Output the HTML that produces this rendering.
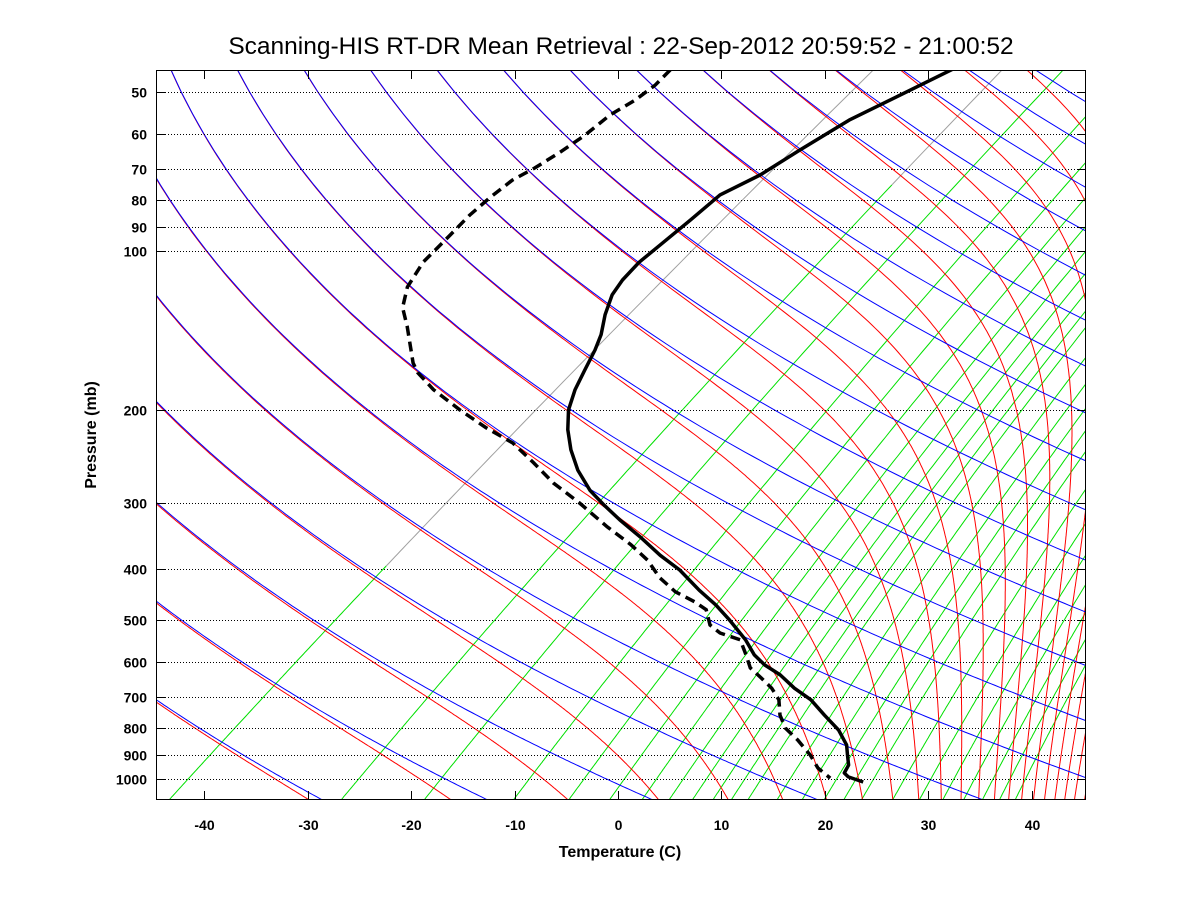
<!DOCTYPE html>
<html><head><meta charset="utf-8"><style>
html,body{margin:0;padding:0;background:#fff;}
svg{display:block;font-family:"Liberation Sans",sans-serif;}
</style></head><body>
<svg id="chart" width="1200" height="900" viewBox="0 0 1200 900" xmlns="http://www.w3.org/2000/svg">
<rect x="0" y="0" width="1200" height="900" fill="#fff"/>
<defs><clipPath id="pc"><rect x="156" y="70" width="930" height="730"/></clipPath></defs>
<text x="621" y="54" text-anchor="middle" font-size="24.5" fill="#000">Scanning-HIS RT-DR Mean Retrieval : 22-Sep-2012 20:59:52 - 21:00:52</text>
<g id="bg" clip-path="url(#pc)"></g>
<g id="grid"></g>
<g id="data" clip-path="url(#pc)"></g>
<g id="axes"></g>
<text x="620" y="857" text-anchor="middle" font-size="16" font-weight="bold">Temperature (C)</text>
<text x="0" y="0" transform="translate(96,435) rotate(-90)" text-anchor="middle" font-size="16" font-weight="bold">Pressure (mb)</text>
</svg>
<script>
// ---- data ----
const tempPressure=[45.0,50.6,56.5,64.4,71.8,78.3,87.4,97.5,105,113.5,121,132,144,154,168,183,200,218,238,260,284,303,323,348,377,402,439,468,500,545,582,608,635,673,708,757,808,862,901,941,974,991,1013];
const tempValues=[-59.5,-61.3,-63.0,-63.9,-64.5,-65.8,-65.4,-65.1,-64.9,-64.2,-63.3,-61.4,-59.2,-57.8,-56.2,-54.6,-52.6,-50.1,-47.2,-43.9,-40.1,-36.8,-33.4,-29.2,-24.9,-21.1,-16.6,-13.1,-9.8,-5.7,-2.9,-0.6,2.2,5.3,8.4,11.7,15.0,17.7,19.1,20.5,21.1,22.0,24.1];
const dewPressure=[45.4,48.5,51.8,55.3,60.3,64.9,69.6,73.4,79.3,85.5,93.3,105,117,128,139,163,170,183,200,216,231,252,275,300,333,360,385,416,442,462,478,511,529,545,582,616,644,673,708,757,801,844,901,953,996];
const dewValues=[-86.8,-86.3,-86.3,-86.8,-86.6,-86.8,-87.2,-87.8,-87.7,-87.4,-86.7,-85.8,-84.1,-81.9,-79.0,-73.7,-72.0,-68.3,-63.1,-58.3,-53.7,-49.1,-44.6,-39.5,-33.7,-29.1,-25.5,-22.0,-18.7,-15.5,-13.4,-11.05,-9.05,-6.2,-3.7,-1.6,0.8,3.1,5.3,7.4,9.6,12.35,15.5,17.9,20.4];
const pressureTicks=[50,60,70,80,90,100,200,300,400,500,600,700,800,900,1000];
const tempTicks=[-40,-30,-20,-10,0,10,20,30,40];
const mixingRatios=[0.1,0.5,1,2,3,4,5,6,7,8,9,10,12,14,16,18,20,24,28,32,36,40,44,48];

const NS="http://www.w3.org/2000/svg";
const S=68.4,PX=10.34,X0=618;
function xs(T,p){return X0+PX*(T+S*Math.log10(1000/p));}
function ys(p){return 779+528*Math.log10(p/1000);}
function pathD(pts){return pts.map((q,i)=>(i?'L':'M')+q[0].toFixed(1)+' '+q[1].toFixed(1)).join('');}
function mk(tag,parent){const e=document.createElementNS(NS,tag);parent.appendChild(e);return e;}
const bg=document.getElementById('bg'),grid=document.getElementById('grid'),dataG=document.getElementById('data'),axes=document.getElementById('axes');

const PT=40,PB=1110;
function esat(Tc){return 6.112*Math.exp(17.67*Tc/(Tc+243.5));}
mixingRatios.forEach(w=>{
  const wk=w/1000;let seg=[],col=null;
  const flush=()=>{if(seg.length>1){const e=mk('path',bg);
    
    
    e.setAttribute('d',pathD(seg));e.setAttribute('fill','none');e.setAttribute('stroke',col);e.setAttribute('stroke-width','1');}};
  for(let p=PT;p<=PB;p+=5){
    const e=wk*p/(0.622+wk);const l=Math.log(e/6.112);const Td=243.5*l/(17.67-l);
    const c=Td< -50?'#a0a0a0':'#00e000';
    if(col&&c!==col){const last=seg[seg.length-1];flush();seg=[last];}
    col=c;seg.push([xs(Td,p),ys(p)]);
  }
  flush();
});
function lapse(T,p){const Tc=T-273.15;let es=esat(Tc);if(es>p*0.95)es=p*0.95;const rs=0.622*es/(p-es);
  const Rd=287,Cp=1005,Lv=2.5e6;return (Rd*T+Lv*rs)/(p*(Cp+Lv*Lv*rs*0.622/(Rd*T*T)));}
for(let n=-8;n<=40;n++){
  const th=240.9+15.57*n;let p=PT,T=th*Math.pow(p/1000,0.286);const pts=[];
  while(p<=PB){pts.push([xs(T-273.15,p),ys(p)]);const dp=2;const k1=lapse(T,p);const k2=lapse(T+k1*dp,p+dp);T+=0.5*(k1+k2)*dp;p+=dp;}
  const e=mk('path',bg);
  
  
  e.setAttribute('d',pathD(pts));e.setAttribute('fill','none');e.setAttribute('stroke','#ff0000');e.setAttribute('stroke-width','1');
}
for(let n=-8;n<=40;n++){
  const th=240.9+15.57*n;const pts=[];
  for(let p=PT;p<=PB;p+=5){pts.push([xs(th*Math.pow(p/1000,0.286)-273.15,p),ys(p)]);}
  const e=mk('path',bg);
  
  
  e.setAttribute('d',pathD(pts));e.setAttribute('fill','none');e.setAttribute('stroke','#0000ff');e.setAttribute('stroke-width','1');
}
pressureTicks.forEach(p=>{const y=Math.round(ys(p))+0.5;
  const g=mk('line',grid);
  
  
  g.setAttribute('x1',156);g.setAttribute('x2',1086);g.setAttribute('y1',y);g.setAttribute('y2',y);
  g.setAttribute('stroke','#000');g.setAttribute('stroke-width','1');g.setAttribute('stroke-dasharray','1 2');
  [[156,165],[1086,1077]].forEach(a=>{const t=mk('line',axes);
    
    
    t.setAttribute('x1',a[0]);t.setAttribute('x2',a[1]);t.setAttribute('y1',y);t.setAttribute('y2',y);t.setAttribute('stroke','#000');});
  const tx=mk('text',axes);
  
  
  tx.setAttribute('x',147);tx.setAttribute('y',y+5);tx.setAttribute('text-anchor','end');tx.setAttribute('font-size','14');tx.setAttribute('font-weight','bold');
  tx.textContent=p;
});
tempTicks.forEach(T=>{const x=Math.round(X0+PX*T)+0.5;
  [[800,791],[70,79]].forEach(a=>{const t=mk('line',axes);
    
    
    t.setAttribute('x1',x);t.setAttribute('x2',x);t.setAttribute('y1',a[0]);t.setAttribute('y2',a[1]);t.setAttribute('stroke','#000');});
  const tx=mk('text',axes);
  
  
  tx.setAttribute('x',x);tx.setAttribute('y',830);tx.setAttribute('text-anchor','middle');tx.setAttribute('font-size','14');tx.setAttribute('font-weight','bold');
  tx.textContent=T;
});
const fr=mk('rect',axes);


fr.setAttribute('x',156.5);fr.setAttribute('y',70.5);fr.setAttribute('width',929);fr.setAttribute('height',729);fr.setAttribute('fill','none');fr.setAttribute('stroke','#000');
const dew=mk('path',dataG);


dew.setAttribute('d',pathD(dewPressure.map((p,i)=>[xs(dewValues[i],p),ys(p)])));
dew.setAttribute('fill','none');dew.setAttribute('stroke','#000');dew.setAttribute('stroke-width','3.5');dew.setAttribute('stroke-dasharray','10 6');
const tl=mk('path',dataG);


tl.setAttribute('d',pathD(tempPressure.map((p,i)=>[xs(tempValues[i],p),ys(p)])));
tl.setAttribute('fill','none');tl.setAttribute('stroke','#000');tl.setAttribute('stroke-width','3.5');tl.setAttribute('stroke-linejoin','round');
</script>
</body></html>
